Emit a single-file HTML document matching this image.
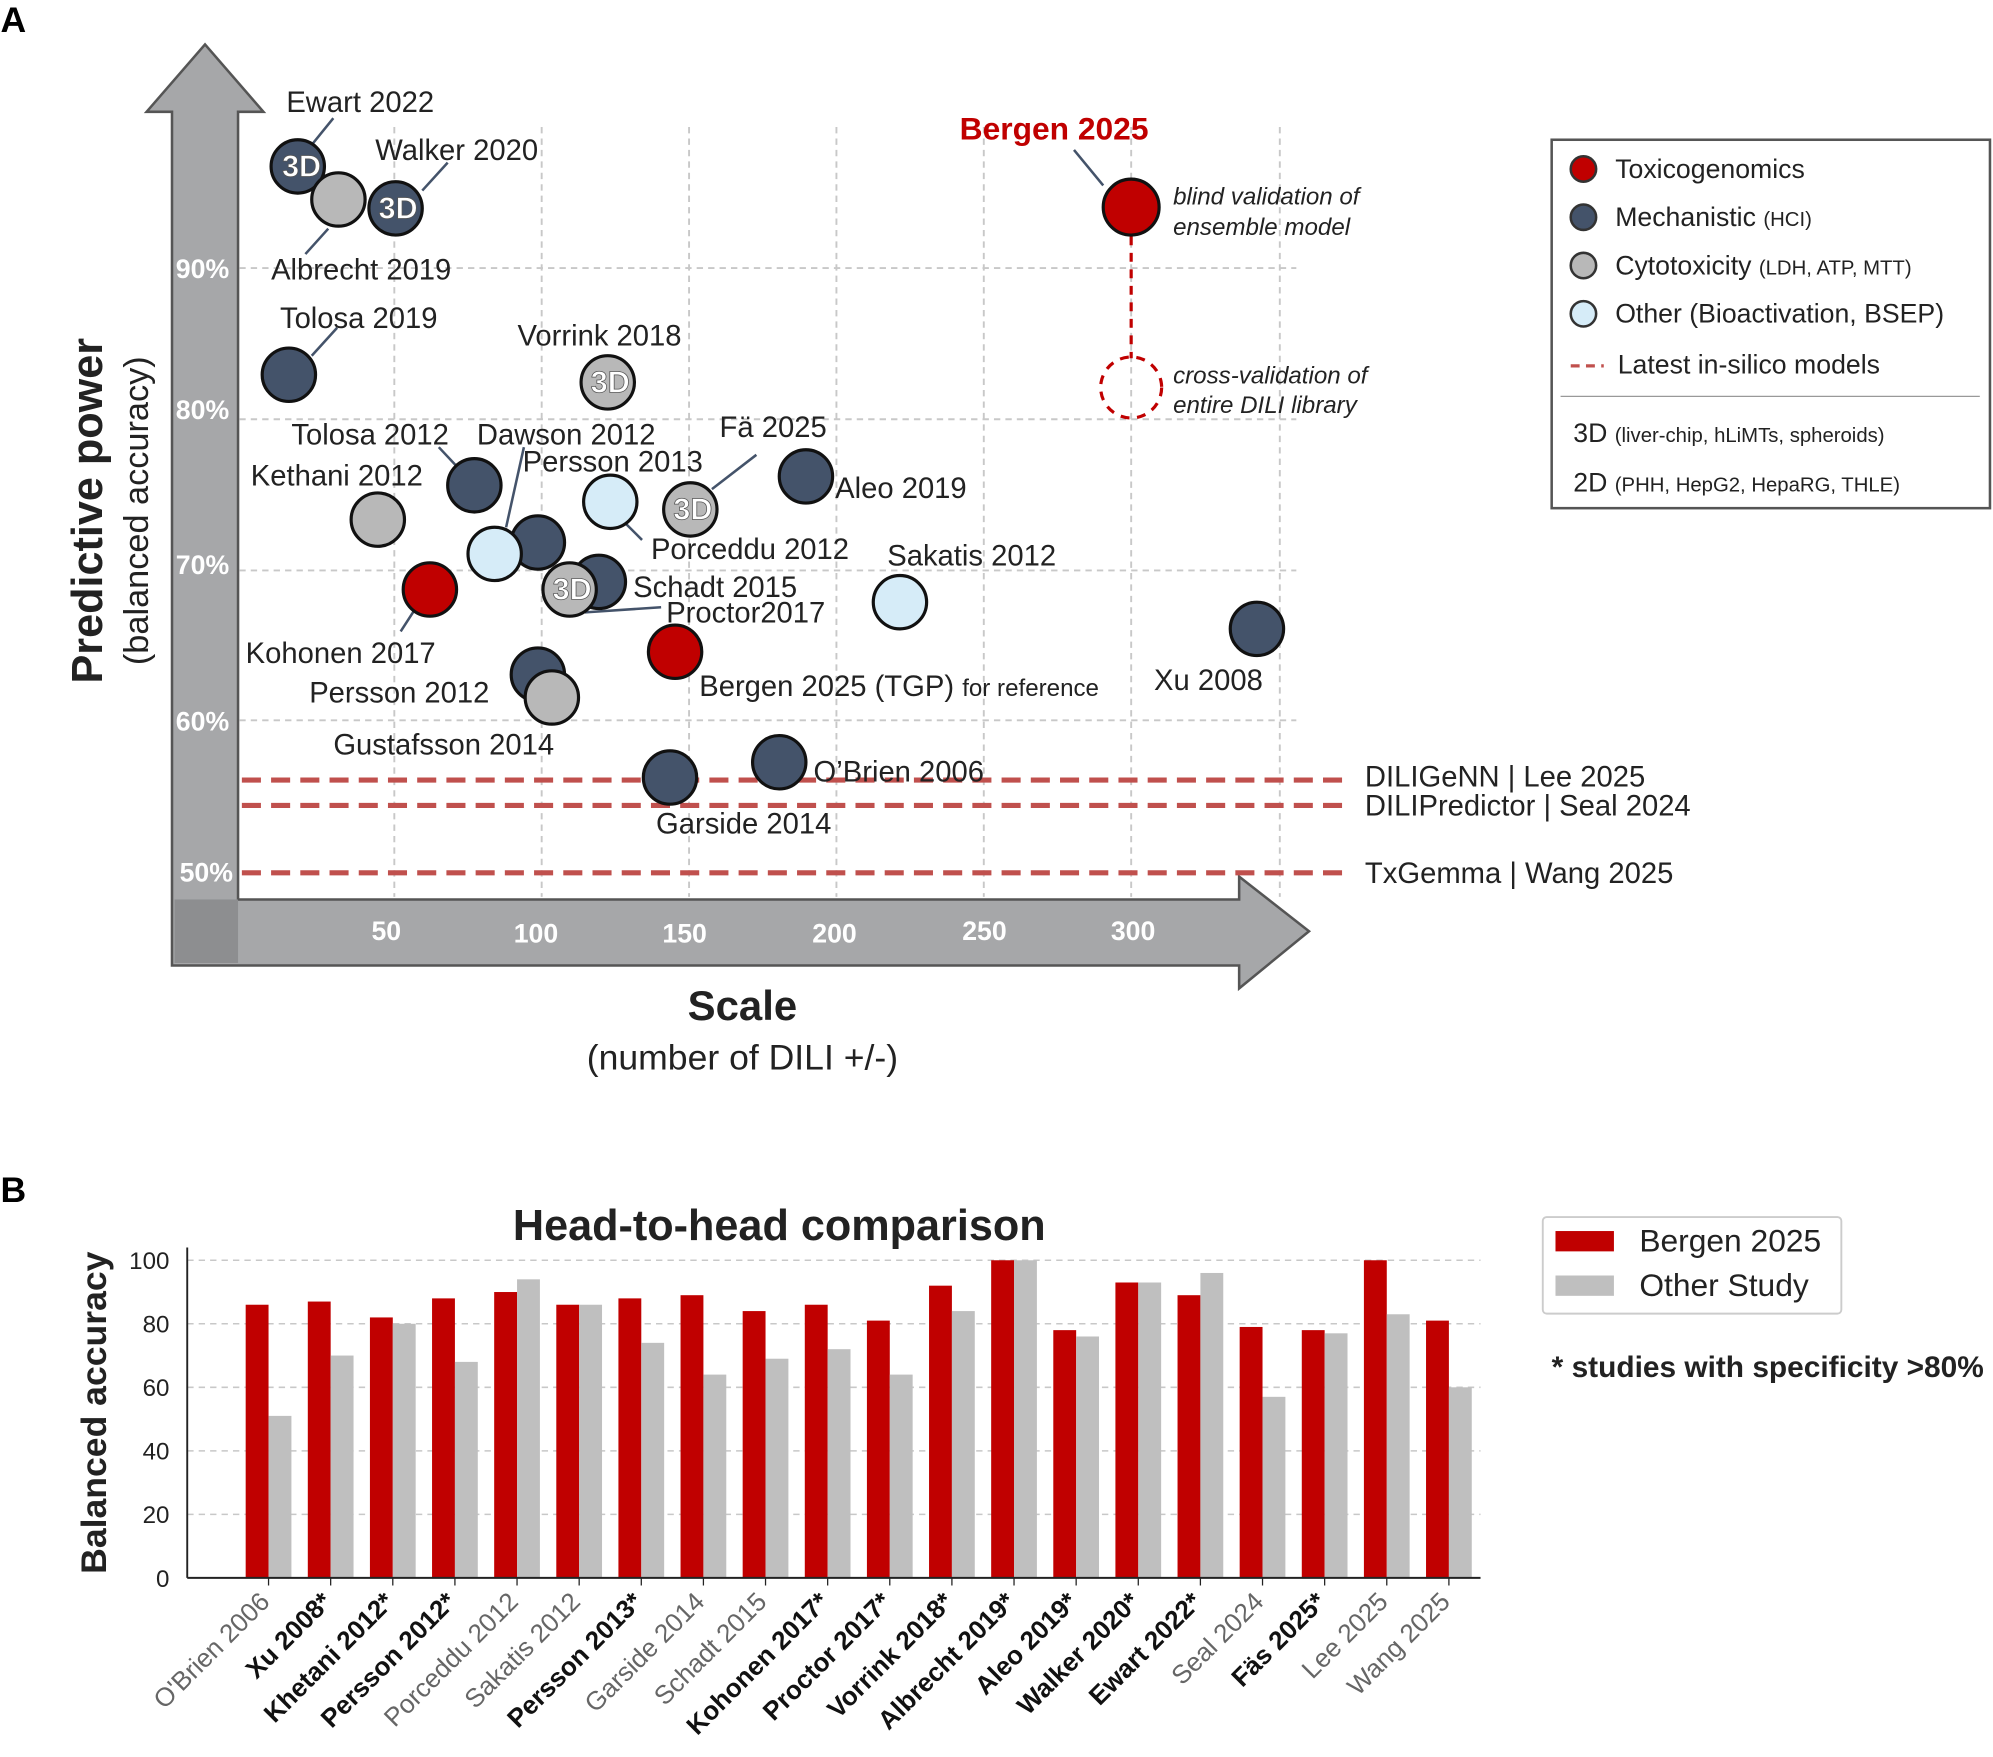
<!DOCTYPE html>
<html><head><meta charset="utf-8"><style>
html,body{margin:0;padding:0;background:#fff;}
svg{display:block;}
text{font-family:"Liberation Sans",Arial,sans-serif;}
</style></head><body>
<svg width="1993" height="1757" viewBox="0 0 1568 1383" xmlns="http://www.w3.org/2000/svg">
<rect width="1568" height="1383" fill="#fff"/>
<text x="0" y="25" font-size="28" font-weight="bold">A</text>
<text x="0" y="946" font-size="28" font-weight="bold">B</text>

<polygon points="135,88 115,88 161,35 207,88 187,88 187,708 975,708 975,690 1030,733 975,778 975,760 135,760" fill="#a6a7a9" stroke="#555" stroke-width="2"/>
<rect x="137" y="708" width="50" height="50" fill="#8d8e90"/>

<g stroke="#c8c8c8" stroke-width="1.5" stroke-dasharray="5,4">
<line x1="310" y1="100" x2="310" y2="706"/><line x1="426" y1="100" x2="426" y2="706"/>
<line x1="542" y1="100" x2="542" y2="706"/><line x1="658" y1="100" x2="658" y2="706"/>
<line x1="774" y1="100" x2="774" y2="706"/><line x1="890" y1="100" x2="890" y2="706"/>
<line x1="1007" y1="100" x2="1007" y2="706"/>
<line x1="188" y1="211" x2="1020" y2="211"/><line x1="188" y1="330" x2="1020" y2="330"/>
<line x1="188" y1="449" x2="1020" y2="449"/><line x1="188" y1="567" x2="1020" y2="567"/>
</g>
<g font-size="21" font-weight="bold" fill="#fff">
<text x="138" y="219">90%</text><text x="138" y="330">80%</text><text x="138" y="452">70%</text>
<text x="138" y="575">60%</text><text x="141" y="694">50%</text>
<text x="292" y="740">50</text><text x="404" y="742">100</text><text x="521" y="742">150</text>
<text x="639" y="742">200</text><text x="757" y="740">250</text><text x="874" y="740">300</text>
</g>

<g stroke="#c0504d" stroke-width="4" stroke-dasharray="15,8">
<line x1="190" y1="614" x2="1057" y2="614"/><line x1="190" y1="634" x2="1057" y2="634"/><line x1="190" y1="687" x2="1057" y2="687"/>
</g>
<g font-size="23" fill="#222">
<text x="1074" y="619">DILIGeNN | Lee 2025</text>
<text x="1074" y="642">DILIPredictor | Seal 2024</text>
<text x="1074" y="695">TxGemma | Wang 2025</text>
</g>

<text x="584" y="803" font-size="33" font-weight="bold" text-anchor="middle" fill="#222">Scale</text>
<text x="584" y="842" font-size="28" text-anchor="middle" fill="#222">(number of DILI +/-)</text>
<text transform="translate(80,402) rotate(-90)" font-size="34" font-weight="bold" text-anchor="middle" fill="#222">Predictive power</text>
<text transform="translate(116,402) rotate(-90)" font-size="27" text-anchor="middle" fill="#222">(balanced accuracy)</text>

<g stroke="#44536a" stroke-width="2" fill="none">
<line x1="262" y1="93" x2="245" y2="114"/><line x1="352" y1="128" x2="332" y2="150"/>
<line x1="258" y1="180" x2="240" y2="200"/><line x1="265" y1="258" x2="245" y2="280"/>
<line x1="345" y1="352" x2="360" y2="368"/><line x1="412" y1="352" x2="398" y2="415"/>
<line x1="595" y1="358" x2="560" y2="385"/><line x1="505" y1="425" x2="490" y2="410"/>
<line x1="326" y1="480" x2="315" y2="497"/><line x1="460" y1="482" x2="520" y2="478"/>
<line x1="845" y1="118" x2="868" y2="146"/>
</g>
<line x1="890" y1="186" x2="890" y2="282" stroke="#c00000" stroke-width="2.5" stroke-dasharray="7,6"/>
<circle cx="890" cy="305" r="24" fill="none" stroke="#c00000" stroke-width="2.5" stroke-dasharray="7,6"/>

<g stroke="#111" stroke-width="2.5">
<circle cx="234" cy="131" r="21" fill="#44536a"/>
<circle cx="266" cy="157" r="21" fill="#b8b8b8"/>
<circle cx="311" cy="164" r="21" fill="#44536a"/>
<circle cx="227" cy="295" r="21" fill="#44536a"/>
<circle cx="478" cy="301" r="21" fill="#b8b8b8"/>
<circle cx="373" cy="382" r="21" fill="#44536a"/>
<circle cx="297" cy="409" r="21" fill="#b8b8b8"/>
<circle cx="423" cy="427" r="21" fill="#44536a"/>
<circle cx="389" cy="436" r="21" fill="#d6ecf8"/>
<circle cx="480" cy="395" r="21" fill="#d6ecf8"/>
<circle cx="543" cy="401" r="21" fill="#b8b8b8"/>
<circle cx="634" cy="375" r="21" fill="#44536a"/>
<circle cx="338" cy="464" r="21" fill="#c00000"/>
<circle cx="471" cy="458" r="21" fill="#44536a"/>
<circle cx="448" cy="464" r="21" fill="#b8b8b8"/>
<circle cx="708" cy="474" r="21" fill="#d6ecf8"/>
<circle cx="531" cy="513" r="21" fill="#c00000"/>
<circle cx="423" cy="531" r="21" fill="#44536a"/>
<circle cx="434" cy="549" r="21" fill="#b8b8b8"/>
<circle cx="989" cy="495" r="21" fill="#44536a"/>
<circle cx="527" cy="612" r="21" fill="#44536a"/>
<circle cx="613" cy="600" r="21" fill="#44536a"/>
<circle cx="890" cy="163" r="22" fill="#c00000"/>
</g>
<g font-size="24" font-weight="bold" fill="#fff" text-anchor="middle" stroke="#555" stroke-width="0.6">
<text x="237" y="139">3D</text><text x="313" y="172">3D</text><text x="480" y="309">3D</text>
<text x="545" y="409">3D</text><text x="450" y="472">3D</text>
</g>

<g font-size="23" fill="#222">
<text x="225" y="88">Ewart 2022</text>
<text x="295" y="126">Walker 2020</text>
<text x="213" y="220">Albrecht 2019</text>
<text x="220" y="258">Tolosa 2019</text>
<text x="407" y="272">Vorrink 2018</text>
<text x="229" y="350">Tolosa 2012</text>
<text x="375" y="350">Dawson 2012</text>
<text x="566" y="344">Fä 2025</text>
<text x="411" y="371">Persson 2013</text>
<text x="197" y="382">Kethani 2012</text>
<text x="657" y="392">Aleo 2019</text>
<text x="512" y="440">Porceddu 2012</text>
<text x="698" y="445">Sakatis 2012</text>
<text x="498" y="470">Schadt 2015</text>
<text x="524" y="490">Proctor2017</text>
<text x="193" y="522">Kohonen 2017</text>
<text x="550" y="548">Bergen 2025 (TGP) <tspan font-size="19">for reference</tspan></text>
<text x="908" y="543">Xu 2008</text>
<text x="243" y="553">Persson 2012</text>
<text x="262" y="594">Gustafsson 2014</text>
<text x="640" y="615">O’Brien 2006</text>
<text x="516" y="656">Garside 2014</text>
</g>
<text x="755" y="110" font-size="25" font-weight="bold" fill="#c00000">Bergen 2025</text>
<g font-size="19" font-style="italic" fill="#222">
<text x="923" y="161">blind validation of</text><text x="923" y="185">ensemble model</text>
<text x="923" y="302">cross-validation of</text><text x="923" y="325">entire DILI library</text>
</g>

<rect x="1221" y="110" width="345" height="290" fill="#fff" stroke="#555" stroke-width="2"/>
<g stroke="#333" stroke-width="2">
<circle cx="1246" cy="133" r="10" fill="#c00000"/>
<circle cx="1246" cy="171" r="10" fill="#44536a"/>
<circle cx="1246" cy="209" r="10" fill="#b8b8b8"/>
<circle cx="1246" cy="247" r="10" fill="#d6ecf8"/>
</g>
<line x1="1236" y1="288" x2="1262" y2="288" stroke="#c0504d" stroke-width="2.5" stroke-dasharray="7,5"/>
<line x1="1228" y1="312" x2="1558" y2="312" stroke="#999" stroke-width="1"/>
<g font-size="21" fill="#222">
<text x="1271" y="140">Toxicogenomics</text>
<text x="1271" y="178">Mechanistic <tspan font-size="16">(HCI)</tspan></text>
<text x="1271" y="216">Cytotoxicity <tspan font-size="16">(LDH, ATP, MTT)</tspan></text>
<text x="1271" y="254">Other (Bioactivation, BSEP)</text>
<text x="1273" y="294">Latest in-silico models</text>
<text x="1238" y="348">3D <tspan font-size="16">(liver-chip, hLiMTs, spheroids)</tspan></text>
<text x="1238" y="387">2D <tspan font-size="16">(PHH, HepG2, HepaRG, THLE)</tspan></text>
</g>

<text x="613" y="976" font-size="34" font-weight="bold" text-anchor="middle" fill="#222">Head-to-head comparison</text>
<text transform="translate(83,1112) rotate(-90)" font-size="28" font-weight="bold" text-anchor="middle" fill="#222">Balanced accuracy</text>
<g stroke="#c8c8c8" stroke-width="1.2" stroke-dasharray="5,4">
<line x1="147" y1="992" x2="1165" y2="992"/><line x1="147" y1="1042" x2="1165" y2="1042"/>
<line x1="147" y1="1092" x2="1165" y2="1092"/><line x1="147" y1="1142" x2="1165" y2="1142"/>
<line x1="147" y1="1192" x2="1165" y2="1192"/>
</g>
<g id="bars"></g>
<line x1="147" y1="982" x2="147" y2="1242" stroke="#222" stroke-width="1.5"/>
<line x1="147" y1="1242" x2="1165" y2="1242" stroke="#222" stroke-width="1.5"/>
<g font-size="19" fill="#222" text-anchor="end">
<text x="133" y="999">100</text><text x="133" y="1049">80</text><text x="133" y="1099">60</text>
<text x="133" y="1149">40</text><text x="133" y="1199">20</text><text x="133" y="1249">0</text>
</g>
<g id="xl"></g>

<rect x="1214" y="958" width="235" height="76" fill="#fff" stroke="#ccc" stroke-width="1.5" rx="3"/>
<rect x="1224" y="969" width="46" height="16" fill="#c00000"/>
<rect x="1224" y="1004" width="46" height="16" fill="#bfbfbf"/>
<g font-size="25" fill="#222"><text x="1290" y="985">Bergen 2025</text><text x="1290" y="1020">Other Study</text></g>
<text x="1221" y="1084" font-size="23.5" font-weight="bold" fill="#222">* studies with specificity &gt;80%</text>
</svg>
<script>
var d=[["O'Brien 2006",86,51,0],["Xu  2008*",87,70,1],["Khetani 2012*",82,80,1],["Persson 2012*",88,68,1],["Porceddu 2012",90,94,0],["Sakatis 2012",86,86,0],["Persson 2013*",88,74,1],["Garside 2014",89,64,0],["Schadt 2015",84,69,0],["Kohonen 2017*",86,72,1],["Proctor 2017*",81,64,1],["Vorrink 2018*",92,84,1],["Albrecht 2019*",100,100,1],["Aleo 2019*",78,76,1],["Walker 2020*",93,93,1],["Ewart 2022*",89,96,1],["Seal 2024",79,57,0],["Fäs 2025*",78,77,1],["Lee 2025",100,83,0],["Wang 2025",81,60,0]];
var ns="http://www.w3.org/2000/svg",b=document.getElementById("bars"),xl=document.getElementById("xl");
d.forEach(function(r,i){var c=211+i*48.9;
function rect(x,v,f){var e=document.createElementNS(ns,"rect");e.setAttribute("x",x);e.setAttribute("y",1242-v*2.5);e.setAttribute("width",18);e.setAttribute("height",v*2.5);e.setAttribute("fill",f);b.appendChild(e);}
rect(c-18,r[1],"#c00000");rect(c,r[2],"#bfbfbf");
var l=document.createElementNS(ns,"line");l.setAttribute("x1",c);l.setAttribute("x2",c);l.setAttribute("y1",1242);l.setAttribute("y2",1248);l.setAttribute("stroke","#222");b.appendChild(l);
var t=document.createElementNS(ns,"text");t.setAttribute("transform","translate("+(c+2)+",1262) rotate(-45)");t.setAttribute("text-anchor","end");t.setAttribute("font-size","20.5");
if(r[3]){t.setAttribute("font-weight","bold");t.setAttribute("fill","#111");}else t.setAttribute("fill","#666");
t.textContent=r[0];xl.appendChild(t);});
</script>
</body></html>
